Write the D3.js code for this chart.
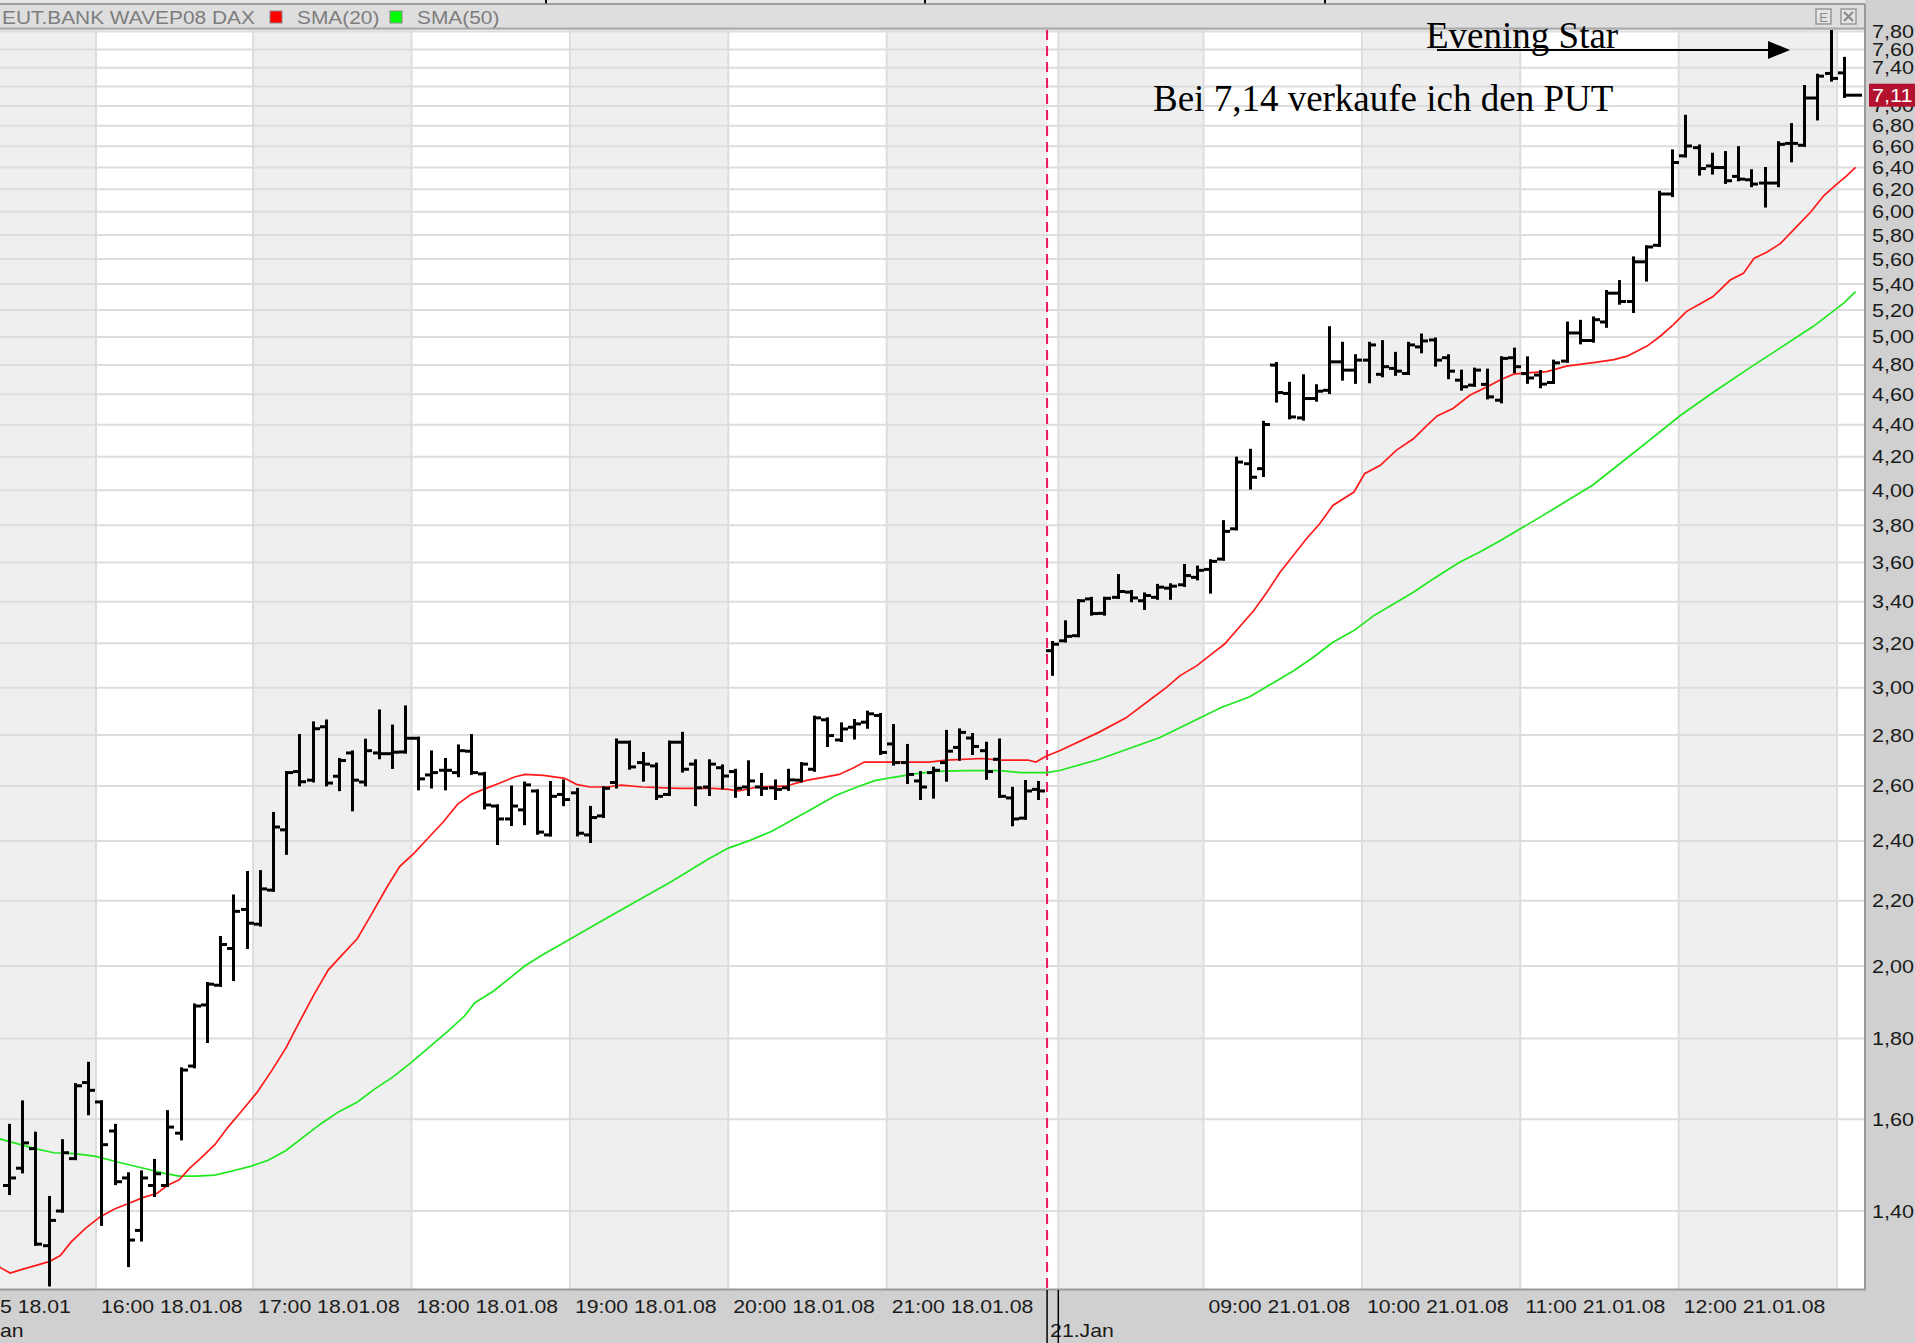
<!DOCTYPE html>
<html><head><meta charset="utf-8">
<script src="https://cdn.jsdelivr.net/npm/d3@7"></script>
<style>html,body{margin:0;padding:0;background:#d0d0d0;overflow:hidden}</style>
</head><body>
<svg id="chart" width="1915" height="1343" xmlns="http://www.w3.org/2000/svg"></svg>
<script>
// ---------------- DATA ----------------
const barOpen = [
1.453,1.490,1.533,1.331,1.400,1.511,1.688,1.641,1.573,1.469,
1.361,1.453,1.453,1.568,1.729,1.890,1.945,2.052,2.172,2.126,
2.234,2.439,2.655,2.622,2.834,2.637,2.728,2.615,2.728,2.725,
2.732,2.787,2.642,2.660,2.651,2.735,2.646,2.525,2.478,2.511,
2.581,2.421,2.568,2.574,2.421,2.489,2.613,2.771,2.690,2.677,
2.568,2.771,2.684,2.596,2.670,2.655,2.596,2.596,2.593,2.593,
2.622,2.664,2.863,2.780,2.832,2.853,2.881,2.764,2.690,2.619,
2.651,2.690,2.750,2.788,2.737,2.703,2.555,2.481,2.587,3.166,
3.212,3.236,3.414,3.343,3.422,3.448,3.405,3.422,3.468,3.485,
3.523,3.564,3.618,3.781,4.157,4.127,4.799,4.605,4.444,4.571,
4.626,4.822,4.764,4.834,4.735,4.776,4.741,4.928,4.978,4.851,
4.695,4.661,4.666,4.560,4.851,4.740,4.730,4.679,4.827,5.029,
4.974,5.110,5.329,5.265,5.578,5.714,6.157,6.509,6.587,6.414,
6.399,6.317,6.286,6.256,6.256,6.628,6.610,7.081,7.339,7.345];
const barHigh = [
1.586,1.641,1.568,1.428,1.551,1.683,1.736,1.641,1.586,1.478,
1.482,1.507,1.618,1.722,1.890,1.950,2.085,2.215,2.292,2.295,
2.498,2.651,2.798,2.850,2.858,2.702,2.732,2.779,2.900,2.837,
2.917,2.787,2.732,2.702,2.756,2.798,2.648,2.525,2.596,2.611,
2.581,2.613,2.619,2.587,2.520,2.593,2.780,2.771,2.726,2.684,
2.771,2.807,2.697,2.697,2.677,2.660,2.693,2.644,2.619,2.660,
2.686,2.874,2.867,2.846,2.860,2.895,2.885,2.839,2.758,2.651,
2.668,2.815,2.821,2.802,2.767,2.780,2.591,2.617,2.613,3.204,
3.302,3.405,3.417,3.417,3.532,3.451,3.439,3.482,3.485,3.584,
3.576,3.609,3.821,4.191,4.239,4.415,4.810,4.673,4.725,4.657,
5.068,4.954,4.865,4.954,4.966,4.882,4.954,5.014,4.985,4.865,
4.757,4.771,4.764,4.851,4.912,4.850,4.754,4.827,5.102,5.115,
5.140,5.342,5.420,5.610,5.700,6.172,6.556,6.895,6.603,6.524,
6.540,6.587,6.369,6.390,6.635,6.812,7.200,7.320,7.810,7.502];
const barLow = [
1.436,1.482,1.334,1.257,1.400,1.511,1.613,1.373,1.457,1.293,
1.342,1.432,1.453,1.555,1.727,1.792,1.945,1.961,2.055,2.123,
2.234,2.357,2.604,2.619,2.604,2.586,2.511,2.604,2.709,2.671,
2.732,2.589,2.596,2.589,2.639,2.648,2.518,2.391,2.458,2.461,
2.427,2.421,2.530,2.421,2.398,2.487,2.596,2.668,2.622,2.553,
2.568,2.657,2.530,2.568,2.593,2.561,2.568,2.568,2.553,2.587,
2.619,2.660,2.758,2.778,2.788,2.832,2.726,2.684,2.613,2.553,
2.558,2.622,2.703,2.726,2.629,2.561,2.457,2.481,2.553,3.059,
3.212,3.236,3.339,3.339,3.422,3.405,3.367,3.417,3.417,3.482,
3.515,3.448,3.618,3.781,4.012,4.086,4.554,4.444,4.436,4.560,
4.611,4.702,4.680,4.684,4.725,4.735,4.741,4.893,4.799,4.712,
4.634,4.661,4.575,4.549,4.753,4.680,4.650,4.679,4.827,4.957,
4.969,5.078,5.252,5.189,5.432,5.714,6.143,6.509,6.338,6.348,
6.262,6.286,6.232,6.050,6.232,6.462,6.610,6.868,7.268,7.097];
const barClose = [
1.469,1.546,1.334,1.381,1.524,1.680,1.669,1.542,1.461,1.342,
1.469,1.478,1.582,1.719,1.887,1.948,2.064,2.166,2.129,2.238,
2.449,2.651,2.616,2.826,2.611,2.698,2.622,2.737,2.725,2.731,
2.787,2.627,2.651,2.660,2.737,2.651,2.529,2.478,2.525,2.604,
2.431,2.561,2.549,2.427,2.483,2.591,2.771,2.673,2.684,2.561,
2.771,2.664,2.593,2.684,2.638,2.591,2.619,2.591,2.587,2.623,
2.684,2.871,2.798,2.825,2.846,2.888,2.730,2.690,2.644,2.596,
2.660,2.735,2.811,2.754,2.655,2.561,2.478,2.581,2.581,3.196,
3.233,3.405,3.342,3.417,3.451,3.419,3.431,3.473,3.478,3.532,
3.559,3.606,3.767,4.167,4.076,4.401,4.611,4.450,4.571,4.620,
4.822,4.764,4.834,4.942,4.788,4.757,4.942,4.971,4.834,4.757,
4.650,4.764,4.582,4.846,4.788,4.710,4.668,4.815,5.029,4.974,
5.127,5.329,5.265,5.578,5.700,6.157,6.446,6.603,6.390,6.399,
6.277,6.292,6.247,6.256,6.619,6.628,7.081,7.310,7.286,7.110];

// SMA(20): [bar index, value]
const sma20Points = [
[-0.7,1.290],[0.1,1.279],[1,1.286],[2,1.293],[3.1,1.301],[3.9,1.312],[4.7,1.338],[5.8,1.365],[6.9,1.388],[8,1.404],
[9.1,1.416],[10.2,1.428],[11.2,1.436],[12,1.453],[12.9,1.465],[13.7,1.490],[14.5,1.511],[15.6,1.542],[16.6,1.582],[17.7,1.622],
[18.8,1.664],[19.9,1.717],[21,1.776],[22,1.843],[23.1,1.918],[24.2,1.989],[25.3,2.035],[26.4,2.082],[27.5,2.159],[28.6,2.241],
[29.6,2.312],[30.7,2.358],[31.8,2.412],[32.9,2.467],[34,2.532],[35,2.568],[36.1,2.590],[37.2,2.611],[38.3,2.634],[39.1,2.644],
[40.5,2.640],[42.1,2.629],[43,2.606],[44,2.596],[45.3,2.596],[46.4,2.603],[48,2.596],[50.7,2.591],[53.4,2.591],[54.5,2.587],
[55.3,2.581],[56.7,2.596],[58.8,2.599],[60.5,2.622],[61.6,2.632],[62.9,2.644],[64,2.670],[64.8,2.692],[69.7,2.692],[71,2.700],
[73.7,2.706],[75.1,2.700],[77.2,2.700],[77.8,2.692],[78.6,2.716],[79.6,2.737],[82.6,2.812],[84.6,2.870],[86.6,2.954],[87.7,3.001],
[88.7,3.052],[90,3.098],[91.2,3.155],[92.1,3.197],[93.3,3.283],[94.3,3.356],[95.3,3.447],[96.3,3.549],[97.3,3.637],[98.3,3.727],
[99.3,3.809],[100.3,3.912],[101.9,3.989],[102.7,4.097],[103.9,4.147],[105.1,4.239],[106.4,4.311],[107.2,4.376],[108.2,4.457],[109.4,4.505],
[110.7,4.594],[112,4.650],[113,4.698],[114,4.736],[115,4.745],[116.5,4.754],[118,4.792],[119,4.804],[120.3,4.820],[121.6,4.838],
[122.6,4.862],[124.1,4.934],[125.1,5.005],[126.1,5.091],[127.1,5.190],[128.1,5.245],[129.1,5.303],[130.4,5.432],[131.4,5.485],[132.2,5.605],
[133.2,5.659],[134.2,5.728],[135.4,5.867],[136.5,5.998],[137.5,6.143],[138.5,6.248],[139.2,6.320],[139.9,6.400]];

// SMA(50): [bar index, value]
const sma50Points = [
[-0.7,1.555],[0.4,1.546],[2,1.533],[3.4,1.524],[5,1.522],[6.6,1.516],[8.3,1.503],[10.2,1.490],[11.8,1.479],[12.9,1.473],
[14.2,1.473],[15.6,1.475],[16.9,1.484],[18.3,1.494],[19.6,1.507],[21,1.529],[22.3,1.559],[23.7,1.591],[25,1.618],[26.4,1.641],
[27.7,1.672],[29.1,1.702],[30.4,1.736],[31.8,1.776],[33.2,1.817],[34.5,1.859],[35.3,1.896],[36.7,1.928],[37.8,1.961],[39.1,2.001],
[40.5,2.035],[41.8,2.064],[45.6,2.152],[50.2,2.262],[52.9,2.335],[54.5,2.375],[56.1,2.401],[57.8,2.434],[59.4,2.476],[61,2.519],
[62.6,2.563],[64.3,2.597],[65.6,2.620],[67,2.633],[68.6,2.646],[70.2,2.656],[72.4,2.659],[75.1,2.659],[76.7,2.651],[78.6,2.651],
[79.6,2.659],[82.6,2.703],[87.2,2.790],[91.8,2.914],[94,2.961],[95.8,3.022],[97.3,3.074],[98.8,3.135],[100.3,3.205],[101.9,3.260],
[103.4,3.332],[104.9,3.389],[106.4,3.447],[107.9,3.515],[109.9,3.601],[111.4,3.654],[113,3.717],[114.5,3.781],[116,3.846],[120,4.030],
[123.5,4.250],[126.6,4.458],[129.1,4.611],[131.7,4.769],[134.2,4.921],[136.7,5.078],[139,5.252],[139.9,5.341]];

// Y axis tick values
const yTickValues = [1.4,1.6,1.8,2.0,2.2,2.4,2.6,2.8,3.0,3.2,3.4,3.6,3.8,4.0,4.2,4.4,4.6,4.8,5.0,5.2,5.4,5.6,5.8,6.0,6.2,6.4,6.6,6.8,7.0,7.2,7.4,7.6,7.8];
// hour boundaries (in bar index units) and their labels
const hourEdges = [-1, 6.6, 18.5, 30.5, 42.5, 54.5, 66.5, 78.65, 79.5, 90.5, 102.5, 114.5, 126.5, 138.5, 142];
const hourLabels = ["16:00 18.01.08","17:00 18.01.08","18:00 18.01.08","19:00 18.01.08","20:00 18.01.08","21:00 18.01.08","09:00 21.01.08","10:00 21.01.08","11:00 21.01.08","12:00 21.01.08"];
const hourLabelAt = [6.6, 18.5, 30.5, 42.5, 54.5, 66.5, 90.5, 102.5, 114.5, 126.5];
const dayBreakAt = 78.65;
const lastPrice = 7.11;
const legendTitle = "EUT.BANK WAVEP08 DAX";
const legendItems = ["SMA(20)", "SMA(50)"];

// ---------------- LAYOUT ----------------
const W = 1915, H = 1343;
const plotL = 0, plotR = 1865, plotT = 30, plotB = 1289;
const SANS = "'Liberation Sans', Arial, sans-serif";
const SERIF = "'Liberation Serif', 'Times New Roman', serif";
const SX = 1.18; // horizontal stretch of the original bitmap font

const svg = d3.select("#chart");
const x = d3.scaleLinear().domain([0, 139]).range([8.9, 8.9 + 139 * 13.2]);
const y = d3.scaleLog().domain([1.4, 7.8]).range([1211, 31.6]);

function stxt(g, str, px, py, opts = {}) {
  return g.append("text")
    .attr("transform", `translate(${px},${py}) scale(${opts.sx || SX},1)`)
    .attr("font-family", SANS).attr("font-size", opts.size || 18)
    .attr("fill", opts.fill || "#1a1a1a")
    .attr("text-anchor", opts.anchor || "start")
    .text(str);
}

// backgrounds
svg.append("rect").attr("x", 0).attr("y", 0).attr("width", W).attr("height", H).attr("fill", "#d0d0d0");
svg.append("rect").attr("x", 0).attr("y", 0).attr("width", plotR).attr("height", 4).attr("fill", "#e6e6e6");
[546, 925, 1325].forEach(px => svg.append("line").attr("x1", px).attr("x2", px).attr("y1", 0).attr("y2", 4).attr("stroke", "#000").attr("stroke-width", 2));
svg.append("rect").attr("x", 0).attr("y", 4).attr("width", plotR).attr("height", 25).attr("fill", "#dedede");
svg.append("line").attr("x1", 0).attr("x2", plotR).attr("y1", 4).attr("y2", 4).attr("stroke", "#8a8a8a").attr("stroke-width", 1.5);
svg.append("line").attr("x1", 0).attr("x2", plotR).attr("y1", 28.5).attr("y2", 28.5).attr("stroke", "#aaaaaa").attr("stroke-width", 2);

// header legend
const hdr = svg.append("g");
stxt(hdr, legendTitle, 2, 24, {fill: "#7d7d7d", sx: 1.16});
hdr.append("rect").attr("x", 270).attr("y", 11).attr("width", 12).attr("height", 12).attr("fill", "#ff0000").attr("stroke", "#8a8a8a");
stxt(hdr, legendItems[0], 297, 24, {fill: "#7d7d7d", sx: 1.16});
hdr.append("rect").attr("x", 390).attr("y", 11).attr("width", 12).attr("height", 12).attr("fill", "#00ff00").attr("stroke", "#8a8a8a");
stxt(hdr, legendItems[1], 417, 24, {fill: "#7d7d7d", sx: 1.16});
// window icons
hdr.append("rect").attr("x", 1816).attr("y", 9).attr("width", 15).attr("height", 15).attr("fill", "#e4e4e4").attr("stroke", "#999").attr("stroke-width", 1.5);
hdr.append("text").attr("x", 1823.5).attr("y", 22).attr("text-anchor", "middle").attr("font-family", SANS).attr("font-size", 13).attr("fill", "#8a8a8a").text("E");
hdr.append("rect").attr("x", 1841).attr("y", 9).attr("width", 15).attr("height", 15).attr("fill", "#e4e4e4").attr("stroke", "#999").attr("stroke-width", 1.5);
hdr.append("path").attr("d", "M1844,12 L1853,21 M1853,12 L1844,21").attr("stroke", "#8a8a8a").attr("stroke-width", 2.2);

// plot area
svg.append("defs").append("clipPath").attr("id", "plotclip")
  .append("rect").attr("x", plotL).attr("y", plotT).attr("width", plotR - plotL).attr("height", plotB - plotT);
const plot = svg.append("g").attr("clip-path", "url(#plotclip)");

// hour bands
for (let k = 0; k < hourEdges.length - 1; k++) {
  plot.append("rect")
    .attr("x", x(hourEdges[k])).attr("y", plotT)
    .attr("width", x(hourEdges[k + 1]) - x(hourEdges[k])).attr("height", plotB - plotT)
    .attr("fill", k % 2 === 0 ? "#efefef" : "#ffffff");
}
// vertical band edges
hourEdges.slice(1, -1).forEach(e => {
  if (e === dayBreakAt) return;
  plot.append("line").attr("x1", x(e)).attr("x2", x(e)).attr("y1", plotT).attr("y2", plotB)
    .attr("stroke", "#dddddd").attr("stroke-width", 2);
});
// horizontal grid
plot.selectAll("line.hgrid").data(yTickValues).enter().append("line").attr("class", "hgrid")
  .attr("x1", plotL).attr("x2", plotR).attr("y1", d => y(d)).attr("y2", d => y(d))
  .attr("stroke", "#dddddd").attr("stroke-width", 2);

// day break dashed line
plot.append("line").attr("x1", x(dayBreakAt)).attr("x2", x(dayBreakAt)).attr("y1", plotT).attr("y2", plotB)
  .attr("stroke", "#e8185a").attr("stroke-width", 2).attr("stroke-dasharray", "10,6");

// moving averages
const lineGen = d3.line().x(d => x(d[0])).y(d => y(d[1]));
plot.append("path").attr("d", lineGen(sma50Points)).attr("fill", "none").attr("stroke", "#1ee81e").attr("stroke-width", 1.7);
plot.append("path").attr("d", lineGen(sma20Points)).attr("fill", "none").attr("stroke", "#ff1a1a").attr("stroke-width", 1.7);

// OHLC bars
const bars = barOpen.map((o, i) => ({i, o, h: barHigh[i], l: barLow[i], c: barClose[i]}));
const bg = plot.append("g").attr("stroke", "#000").attr("stroke-width", 3).attr("stroke-linecap", "square");
bars.forEach(b => {
  const bx = Math.round(x(b.i)) + 0.5;
  bg.append("line").attr("x1", bx).attr("x2", bx).attr("y1", y(b.h)).attr("y2", y(b.l));
  bg.append("line").attr("x1", bx - 5).attr("x2", bx).attr("y1", y(b.o)).attr("y2", y(b.o));
  const len = b.i === bars.length - 1 ? 16 : 5;
  bg.append("line").attr("x1", bx).attr("x2", bx + len).attr("y1", y(b.c)).attr("y2", y(b.c));
});

// plot border
svg.append("line").attr("x1", plotR).attr("x2", plotR).attr("y1", 4).attr("y2", plotB + 1).attr("stroke", "#9a9a9a").attr("stroke-width", 2);
svg.append("line").attr("x1", 0).attr("x2", plotR + 1).attr("y1", plotB + 0.5).attr("y2", plotB + 0.5).attr("stroke", "#9a9a9a").attr("stroke-width", 2);

// y axis labels (those fully covered by the last-price box are not drawn)
const fmt = d3.format(".2f");
const ya = svg.append("g");
yTickValues.filter(v => Math.abs(y(v) - y(lastPrice)) > 10)
  .forEach(v => stxt(ya, fmt(v).replace(".", ","), 1872, y(v) + 6.5, {sx: 1.2}));
// last price box
ya.append("rect").attr("x", 1869).attr("y", y(lastPrice) - 11.5).attr("width", 46).attr("height", 23).attr("fill", "#b3122e");
stxt(ya, fmt(lastPrice).replace(".", ","), 1872, y(lastPrice) + 7, {fill: "#ffffff", sx: 1.2});

// x axis labels
const xa = svg.append("g");
hourLabels.forEach((t, k) => stxt(xa, t, x(hourLabelAt[k]) + 5, 1313));
stxt(xa, "5 18.01", 0, 1313);
stxt(xa, "an", 0, 1337);
stxt(xa, "21.Jan", x(dayBreakAt) + 3, 1337);
[dayBreakAt, 79.5].forEach(e => xa.append("line").attr("x1", x(e)).attr("x2", x(e)).attr("y1", plotB + 1).attr("y2", H)
  .attr("stroke", "#000").attr("stroke-width", 1.5));

// annotations
const ann = svg.append("g");
ann.append("text").attr("x", 1426).attr("y", 48).attr("font-family", SERIF).attr("font-size", 37).attr("fill", "#000").text("Evening Star");
ann.append("line").attr("x1", 1437).attr("x2", 1772).attr("y1", 50).attr("y2", 50).attr("stroke", "#000").attr("stroke-width", 2);
ann.append("path").attr("d", "M1768,41 L1790,50 L1768,59 Z").attr("fill", "#000");
ann.append("text").attr("x", 1153).attr("y", 111).attr("font-family", SERIF).attr("font-size", 37).attr("fill", "#000").text("Bei 7,14 verkaufe ich den PUT");
</script>
</body></html>
